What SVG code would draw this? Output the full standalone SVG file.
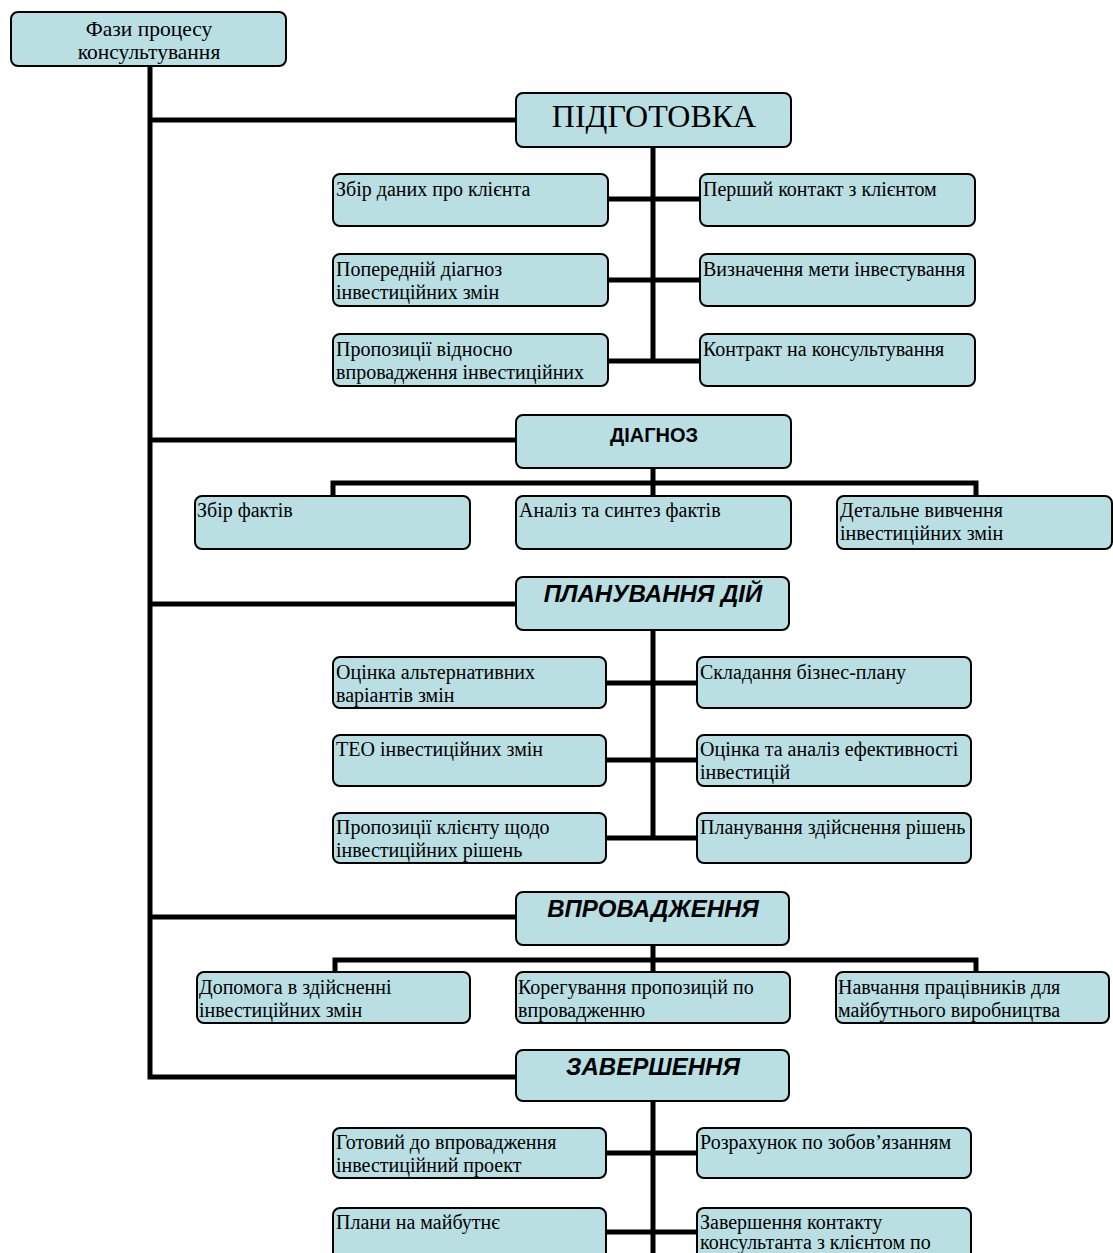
<svg xmlns="http://www.w3.org/2000/svg" width="1113" height="1253" viewBox="0 0 1113 1253">
<style>
.box{fill:#b9dfe3;stroke:#000;stroke-width:2}
.t{font-family:"Liberation Serif","Times New Roman",serif;font-size:20px;fill:#000}
.r{font-family:"Liberation Serif","Times New Roman",serif;font-size:21.5px;text-anchor:middle}
.h1{font-family:"Liberation Serif","Times New Roman",serif;font-size:32px;text-anchor:middle}
.hb{font-family:"Liberation Sans",Arial,sans-serif;font-weight:bold;font-size:20px;text-anchor:middle}
.hi{font-family:"Liberation Sans",Arial,sans-serif;font-weight:bold;font-style:italic;font-size:24px;text-anchor:middle}
.ln{fill:none;stroke:#000;stroke-width:5}
</style>
<rect width="1113" height="1253" fill="#fff"/>
<g id="connectors">
<path class="ln" d="M150 66 V1077 H516 M150 120 H516 M150 440 H516 M150 604 H516 M150 917 H516"/>
<path class="ln" d="M653 147 V361 M608 199 H700 M608 280 H700 M608 361 H700"/>
<path class="ln" d="M653 468 V483 M333 496 V483 H976 V496 M653 483 V496"/>
<path class="ln" d="M653 630 V838 M606 683 H697 M606 760 H697 M606 838 H697"/>
<path class="ln" d="M653 945 V960 M335 972 V960 H976 V972 M653 960 V972"/>
<path class="ln" d="M653 1101 V1253 M606 1153 H697 M606 1232 H697"/>
</g>
<g id="root"><rect class="box" x="11" y="12" width="275" height="54" rx="7"/><text class="r" x="149" y="36">Фази процесу</text><text class="r" x="149" y="59">консультування</text></g>
<g id="p1"><rect class="box" x="516" y="93" width="275" height="54" rx="7"/><text class="h1" x="654" y="127">ПІДГОТОВКА</text></g>
<g id="p1a"><rect class="box" x="333" y="174" width="275" height="52" rx="7"/><text class="t" x="336" y="196">Збір даних про клієнта</text></g>
<g id="p1b"><rect class="box" x="333" y="254" width="275" height="52" rx="7"/><text class="t" x="336" y="276">Попередній діагноз</text><text class="t" x="336" y="299">інвестиційних змін</text></g>
<g id="p1c"><rect class="box" x="333" y="334" width="275" height="52" rx="7"/><text class="t" x="336" y="356">Пропозиції відносно</text><text class="t" x="336" y="379">впровадження інвестиційних</text></g>
<g id="p1d"><rect class="box" x="700" y="174" width="275" height="52" rx="7"/><text class="t" x="703" y="196">Перший контакт з клієнтом</text></g>
<g id="p1e"><rect class="box" x="700" y="254" width="275" height="52" rx="7"/><text class="t" x="703" y="276">Визначення мети інвестування</text></g>
<g id="p1f"><rect class="box" x="700" y="334" width="275" height="52" rx="7"/><text class="t" x="703" y="356">Контракт на консультування</text></g>
<g id="p2"><rect class="box" x="516" y="415" width="275" height="53" rx="7"/><text class="hb" x="654" y="442">ДІАГНОЗ</text></g>
<g id="p2a"><rect class="box" x="195" y="496" width="275" height="53" rx="7"/><text class="t" x="197" y="517">Збір фактів</text></g>
<g id="p2b"><rect class="box" x="516" y="496" width="275" height="53" rx="7"/><text class="t" x="519" y="517">Аналіз та синтез фактів</text></g>
<g id="p2c"><rect class="box" x="837" y="496" width="275" height="53" rx="7"/><text class="t" x="840" y="517">Детальне вивчення</text><text class="t" x="840" y="540">інвестиційних змін</text></g>
<g id="p3"><rect class="box" x="516" y="577" width="273" height="53" rx="7"/><text class="hi" x="653" y="602">ПЛАНУВАННЯ ДІЙ</text></g>
<g id="p3a"><rect class="box" x="333" y="657" width="273" height="51" rx="7"/><text class="t" x="336" y="679">Оцінка альтернативних</text><text class="t" x="336" y="702">варіантів змін</text></g>
<g id="p3b"><rect class="box" x="333" y="735" width="273" height="51" rx="7"/><text class="t" x="336" y="756">ТЕО інвестиційних змін</text></g>
<g id="p3c"><rect class="box" x="333" y="813" width="273" height="50" rx="7"/><text class="t" x="336" y="834">Пропозиції клієнту щодо</text><text class="t" x="336" y="857">інвестиційних рішень</text></g>
<g id="p3d"><rect class="box" x="697" y="657" width="274" height="51" rx="7"/><text class="t" x="700" y="679">Складання бізнес-плану</text></g>
<g id="p3e"><rect class="box" x="697" y="735" width="274" height="51" rx="7"/><text class="t" x="700" y="756">Оцінка та аналіз ефективності</text><text class="t" x="700" y="779">інвестицій</text></g>
<g id="p3f"><rect class="box" x="697" y="813" width="274" height="50" rx="7"/><text class="t" x="700" y="834">Планування здійснення рішень</text></g>
<g id="p4"><rect class="box" x="516" y="892" width="273" height="53" rx="7"/><text class="hi" x="653" y="917">ВПРОВАДЖЕННЯ</text></g>
<g id="p4a"><rect class="box" x="197" y="972" width="273" height="51" rx="7"/><text class="t" x="199" y="994">Допомога в здійсненні</text><text class="t" x="199" y="1017">інвестиційних змін</text></g>
<g id="p4b"><rect class="box" x="516" y="972" width="274" height="51" rx="7"/><text class="t" x="518" y="994">Корегування пропозицій по</text><text class="t" x="518" y="1017">впровадженню</text></g>
<g id="p4c"><rect class="box" x="836" y="972" width="273" height="51" rx="7"/><text class="t" x="838" y="994">Навчання працівників для</text><text class="t" x="838" y="1017">майбутнього виробництва</text></g>
<g id="p5"><rect class="box" x="516" y="1050" width="273" height="51" rx="7"/><text class="hi" x="653" y="1075">ЗАВЕРШЕННЯ</text></g>
<g id="p5a"><rect class="box" x="333" y="1128" width="273" height="50" rx="7"/><text class="t" x="336" y="1149">Готовий до впровадження</text><text class="t" x="336" y="1172">інвестиційний проект</text></g>
<g id="p5b"><rect class="box" x="333" y="1208" width="273" height="60" rx="7"/><text class="t" x="336" y="1229">Плани на майбутнє</text></g>
<g id="p5c"><rect class="box" x="697" y="1128" width="274" height="50" rx="7"/><text class="t" x="700" y="1149">Розрахунок по зобов’язанням</text></g>
<g id="p5d"><rect class="box" x="697" y="1208" width="274" height="60" rx="7"/><text class="t" x="700" y="1229">Завершення контакту</text><text class="t" x="700" y="1249">консультанта з клієнтом по</text></g>
</svg>
